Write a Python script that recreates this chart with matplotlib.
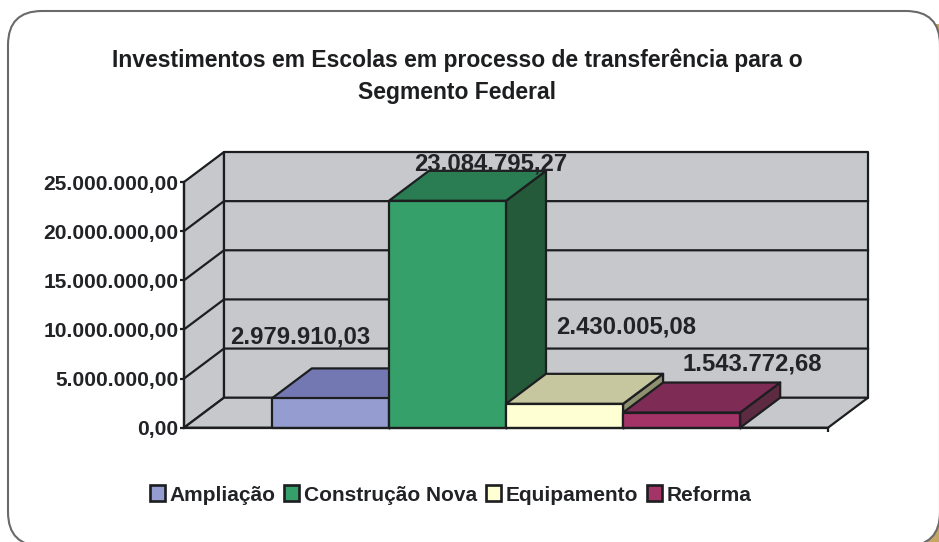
import matplotlib
matplotlib.use("Agg")
import matplotlib.pyplot as plt
from matplotlib.patches import Polygon, FancyBboxPatch, Patch

plt.rcParams['font.family'] = ['Liberation Sans', 'DejaVu Sans']

categories = ["Ampliação", "Construção Nova", "Equipamento", "Reforma"]
values = [2979910.03, 23084795.27, 2430005.08, 1543772.68]
y_ticks = [0, 5000000, 10000000, 15000000, 20000000, 25000000]
title = "Investimentos em Escolas em processo de transferência para o\nSegmento Federal"

front_colors = ["#959dd0", "#36a06a", "#ffffd4", "#a43468"]
top_colors = ["#7478b2", "#2a7d52", "#c6c79f", "#7e2b55"]
side_colors = ["#5a5c8c", "#245a3a", "#8e9070", "#5c2b42"]
label_offsets_px = [(-30, 61), (43, 37), (62, 77), (71, 49)]

W, H = 939, 542
EDGE = "#1d1e20"
WALL = "#c7c8cc"
LW = 1.6


def fmt(v):
    s = f"{v:,.2f}"
    return s.replace(",", "X").replace(".", ",").replace("X", ".")


fig = plt.figure(figsize=(W / 100, H / 100), dpi=100, facecolor="white")

# page backdrop in pixel units
bg = fig.add_axes([0, 0, 1, 1], zorder=0)
bg.set_xlim(0, W)
bg.set_ylim(H, 0)
bg.axis("off")
bg.add_patch(Polygon([(905, H), (W, H), (W, 505)], closed=True, fc="#c6a566", ec="none"))
bg.add_patch(Polygon([(932, 24), (W, 24), (W, 40)], closed=True, fc="#c6a566", ec="none"))
bg.add_patch(FancyBboxPatch((8, 11), W - 8 + 1, H + 4 - 11,
                            boxstyle="round,pad=0,rounding_size=34",
                            fc="white", ec="#6a6a6a", lw=1.5, clip_on=True))

# chart axes: front plane of the 3D box
x_left, x_right, y_bottom, y_top = 184, 828, 427.7, 182
ax = fig.add_axes([x_left / W, 1 - y_bottom / H, (x_right - x_left) / W, (y_bottom - y_top) / H],
                  zorder=1)
ax.patch.set_alpha(0)
ax.set_xlim(-1.25, 4.25)
ax.set_ylim(0, 25000000)
dx = 40 * 5.5 / (x_right - x_left)
dy = 30 * 25000000 / (y_bottom - y_top)
x0, x1 = ax.get_xlim()
y0, y1 = ax.get_ylim()


def poly(pts, fc, z):
    ax.add_patch(Polygon(pts, closed=True, fc=fc, ec=EDGE, lw=LW, zorder=z,
                         clip_on=False, joinstyle="round"))


# walls and floor
poly([(x0, y0), (x0 + dx, y0 + dy), (x0 + dx, y1 + dy), (x0, y1)], WALL, 1)
poly([(x0 + dx, y0 + dy), (x1 + dx, y0 + dy), (x1 + dx, y1 + dy), (x0 + dx, y1 + dy)], WALL, 1)
poly([(x0, y0), (x1, y0), (x1 + dx, y0 + dy), (x0 + dx, y0 + dy)], WALL, 1)

# gridlines on the walls
for t in y_ticks[1:-1]:
    ax.plot([x0, x0 + dx, x1 + dx], [t, t + dy, t + dy], color=EDGE, lw=LW, zorder=2, clip_on=False)

# bars
for i, v in enumerate(values):
    l, r = i - 0.5, i + 0.5
    z = 3 + i
    poly([(r, 0), (r + dx, dy), (r + dx, v + dy), (r, v)], side_colors[i], z)
    poly([(l, v), (r, v), (r + dx, v + dy), (l + dx, v + dy)], top_colors[i], z)
    poly([(l, 0), (r, 0), (r, v), (l, v)], front_colors[i], z)

# value labels
for i, v in enumerate(values):
    ox, oy = label_offsets_px[i]
    ax.annotate(fmt(v), xy=(i, v), xytext=(ox * 0.72, oy * 0.72), textcoords="offset points",
                ha="center", va="center", fontsize=17.2, fontweight="bold", color="#222326",
                zorder=10, annotation_clip=False)

# axes furniture
for side in ("top", "right"):
    ax.spines[side].set_visible(False)
for side in ("left", "bottom"):
    ax.spines[side].set_linewidth(LW)
    ax.spines[side].set_color(EDGE)
    ax.spines[side].set_zorder(9)
ax.set_yticks(y_ticks, [fmt(t) for t in y_ticks], fontsize=15.1, fontweight="bold", color="#222326")
ax.set_xticks([x1], [])
ax.set_xticks([0.5, 1.5, 2.5, 3.5], [], minor=True)
ax.tick_params(axis="y", length=3, width=LW, color=EDGE, pad=1)
ax.tick_params(axis="x", which="major", length=3, width=LW, color=EDGE)
ax.tick_params(axis="x", which="minor", length=1, width=1, color=EDGE)

# title
fig.text(457.5 / W, 1 - 76 / H, title, ha="center", va="center", fontsize=16.5,
         fontweight="bold", color="#1d1e20", linespacing=1.5)

# legend
handles = [Patch(fc=c, ec=EDGE, lw=LW * 1.2, label=n) for c, n in zip(front_colors, categories)]
leg = fig.legend(handles=handles, ncol=4, loc="center", bbox_to_anchor=(450.5 / W, 1 - 495 / H),
                 frameon=False, handlelength=0.72, handleheight=0.8,
                 handletextpad=0.22, columnspacing=0.42, borderpad=0, borderaxespad=0,
                 prop={"weight": "bold", "size": 15})
for t in leg.get_texts():
    t.set_color("#222326")

fig.savefig("out.png", dpi=100)
